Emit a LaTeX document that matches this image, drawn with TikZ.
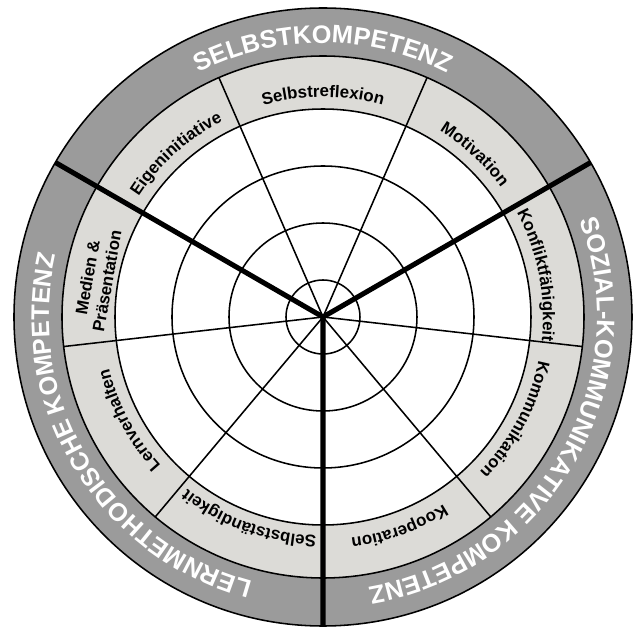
\documentclass[tikz,border=0pt]{standalone}
\usepackage{fontspec}
\setmainfont{Liberation Sans}
\usetikzlibrary{decorations.text}
\definecolor{bandlight}{RGB}{220,219,215}
\definecolor{banddark}{RGB}{155,155,155}
\newcommand{\segfont}{\fontsize{12}{14}\selectfont\bfseries}
\newcommand{\areafont}{\fontsize{18}{20}\selectfont\bfseries}
\begin{document}
\begin{tikzpicture}[x=0.025cm,y=0.025cm,
  ring/.style={draw=black,line width=1.1pt},
  spoke/.style={draw=black,line width=1.1pt},
  border/.style={draw=black,line width=3.6pt},
  seglabel/.style={decoration={text along path,text align=center,text={|\segfont|#1}},decorate},
  arealabel/.style={decoration={text along path,text align=center,text color=white,text={|\areafont|#1}},decorate}]
\useasboundingbox (-323,-315) rectangle (311,317);
\coordinate (c) at (0,0);
% bands and rings
\filldraw[fill=banddark,ring] (c) circle (309);
\filldraw[fill=bandlight,ring] (c) circle (261);
\filldraw[fill=white,ring] (c) circle (208);
\foreach \r in {37,94,151} \draw[ring] (c) circle (\r);
% spokes
\foreach \a in {66.5,113.5,186.5,230,310,353.5} \draw[spoke] (c) -- (\a:261);
\draw[border] (30:309) -- (c) -- (150:309) (c) -- (270:309);
% competences
\path[seglabel=Selbstreflexion] (115:220) arc[start angle=115,end angle=65,radius=220];
\path[seglabel=Eigeninitiative] (157:220) arc[start angle=157,end angle=107,radius=220];
\path[seglabel=Motivation] (72:220) arc[start angle=72,end angle=22,radius=220];
\path[seglabel=Konfliktfähigkeit] (36:220) arc[start angle=36,end angle=-14,radius=220];
\path[seglabel=Kommunikation] (-3:220) arc[start angle=-3,end angle=-53,radius=220];
\path[seglabel=Kooperation] (-45:223) arc[start angle=-45,end angle=-95,radius=223];
\path[seglabel=Selbstständigkeit] (275:219) arc[start angle=275,end angle=225,radius=219];
\path[seglabel=Lernverhalten] (233:220) arc[start angle=233,end angle=183,radius=220];
\node[font=\segfont,align=center,rotate=80,inner sep=0pt] (medien) at (170.5:229) {Medien \&\\Präsentation};
% areas
\path[arealabel=SELBSTKOMPETENZ] (125:274) arc[start angle=125,end angle=55,radius=274];
\path[arealabel=SOZIAL-KOMMUNIKATIVE KOMPETENZ] (30:274) arc[start angle=30,end angle=-90,radius=274];
\path[arealabel=LERNMETHODISCHE KOMPETENZ] (265:274) arc[start angle=265,end angle=157,radius=274];
\end{tikzpicture}
\end{document}
